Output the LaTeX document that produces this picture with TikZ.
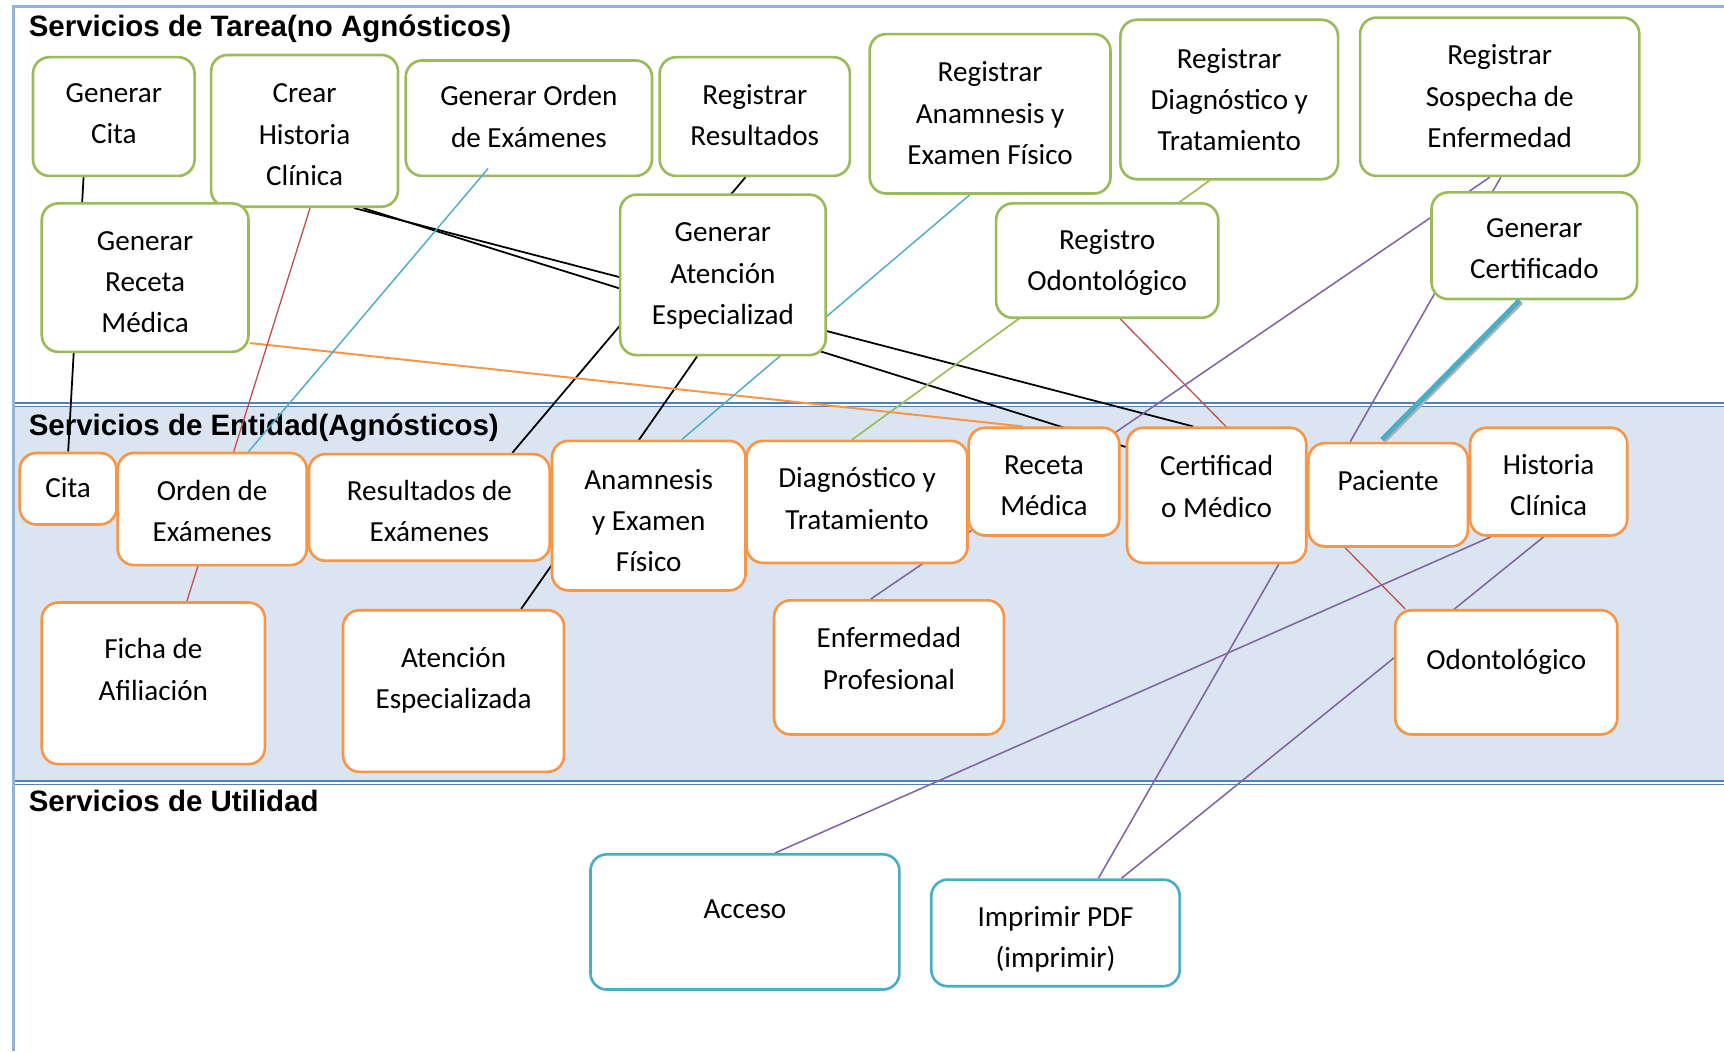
\documentclass[tikz,border=0pt]{standalone}
\usepackage{fontspec}
\setmainfont{Carlito}
\newfontfamily\headfont{Liberation Sans}
\definecolor{gcol}{HTML}{9BBB59}
\definecolor{ecol}{HTML}{F79646}
\definecolor{ucol}{HTML}{4BACC6}
\definecolor{redl}{HTML}{C0504D}
\definecolor{purl}{HTML}{8064A2}
\definecolor{bandfill}{HTML}{DBE5F1}
\definecolor{bandline}{HTML}{4F81BD}
\definecolor{framecol}{HTML}{95B3D7}
\pgfdeclarelayer{back}
\pgfdeclarelayer{lines}
\pgfsetlayers{back,lines,main}
\newcommand\bx[8]{%
  \node[#1, minimum width={#5-#3}, minimum height={#6-#4}] (#2) at ({(#3+#5)/2},{(#4+#6)/2}) {};
  \node[txt] (#2t) at ({(#3+#5)/2},#7) {#8};}
\begin{document}
\begin{tikzpicture}[x=1pt,y=-1pt,
  box/.style={draw, line width=2.4pt, rounded corners=15pt, fill=white, inner sep=0pt},
  gbox/.style={box, draw=gcol},
  ebox/.style={box, draw=ecol},
  ubox/.style={box, draw=ucol},
  txt/.style={align=center, inner sep=0pt, font=\fontsize{26.5}{37.5}\selectfont,
    execute at begin node=\strut, execute at end node=\strut},
  head/.style={anchor=base west, inner sep=0pt, font=\headfont\bfseries\fontsize{26.8}{30}\selectfont},
  cblack/.style={draw=black, line width=1.6pt},
  cred/.style={draw=redl, line width=1.2pt},
  ccyan/.style={draw=ucol, line width=1.3pt},
  cgreen/.style={draw=gcol, line width=1.5pt},
  cpurple/.style={draw=purl, line width=1.4pt},
  corange/.style={draw=ecol, line width=1.8pt}]
\useasboundingbox (0,0) rectangle (1568,956);

\begin{pgfonlayer}{back}
  \fill[bandfill] (12,370.5) rectangle (1568,709.5);
  \draw[bandline, line width=1.3pt] (12,366.5) -- (1568,366.5);
  \draw[bandline, line width=1.3pt] (12,369.8) -- (1568,369.8);
  \draw[bandline, line width=1.3pt] (12,710.3) -- (1568,710.3);
  \draw[bandline, line width=1.3pt] (12,713.6) -- (1568,713.6);
  \draw[framecol, line width=3pt] (12,956) -- (12,6) -- (1568,6);
  \node[head] (h1) at (26,33) {Servicios de Tarea(no Agnósticos)};
  \node[head] (h2) at (26,396) {Servicios de Entidad(Agnósticos)};
  \node[head] (h3) at (26,738) {Servicios de Utilidad};
\end{pgfonlayer}

% Servicios de Tarea
\bx{gbox}{gcita}{30}{52}{177}{160}{109}{Generar\\Cita}
\bx{gbox}{gcrear}{192}{50}{362}{188}{128}{Crear\\Historia\\Clínica}
\bx{gbox}{gorden}{369}{55}{593}{160}{111.5}{Generar Orden\\de Exámenes}
\bx{gbox}{gresul}{600}{52}{773}{160}{110}{Registrar\\Resultados}
\bx{gbox}{ganam}{791}{31}{1010}{176}{108.5}{Registrar\\Anamnesis y\\Examen Físico}
\bx{gbox}{gdiag}{1019}{18}{1217}{163}{96}{Registrar\\Diagnóstico y\\Tratamiento}
\bx{gbox}{gsosp}{1237}{16}{1491}{160}{93}{Registrar\\Sospecha de\\Enfermedad}
\bx{gbox}{greceta}{38}{185}{226}{320}{262}{Generar\\Receta\\Médica}
\bx{gbox}{gatenc}{564}{177}{751}{323}{254.5}{Generar\\Atención\\Especializad}
\bx{gbox}{godont}{906}{185}{1108}{289}{242}{Registro\\Odontológico}
\bx{gbox}{gcert}{1302}{175}{1489}{272}{231.5}{Generar\\Certificado}

% Servicios de Entidad
\bx{ebox}{ecita}{18}{412}{106}{477}{445}{Cita}
\bx{ebox}{eorden}{107}{412}{279}{514}{470}{Orden de\\Exámenes}
\bx{ebox}{eresul}{281}{413}{500}{510}{470}{Resultados de\\Exámenes}
\bx{ebox}{eanam}{502}{401}{678}{537}{479}{Anamnesis\\y Examen\\Físico}
\bx{ebox}{ediag}{679}{401}{880}{512}{459}{Diagnóstico y\\Tratamiento}
\bx{ebox}{ereceta}{881}{389}{1018}{487}{447}{Receta\\Médica}
\bx{ebox}{ecert}{1025}{389}{1188}{512}{448}{Certificad\\o Médico}
\bx{ebox}{epac}{1190}{403}{1335}{497}{439}{Paciente}
\bx{ebox}{ehist}{1337}{389}{1480}{487}{447}{Historia\\Clínica}
\bx{ebox}{eficha}{38}{548}{241}{695}{614.5}{Ficha de\\Afiliación}
\bx{ebox}{eatenc}{312}{555}{513}{702}{622}{Atención\\Especializada}
\bx{ebox}{eenf}{704}{546}{913}{668}{604.5}{Enfermedad\\Profesional}
\bx{ebox}{eodont}{1269}{555}{1471}{668}{601}{Odontológico}

% Servicios de Utilidad
\bx{ubox}{uacceso}{537}{777}{818}{900}{828}{Acceso}
\bx{ubox}{uimpr}{847}{800}{1073}{897}{857.5}{Imprimir PDF\\(imprimir)}

\begin{pgfonlayer}{lines}
  \draw[cblack] ([xshift=-27.5pt]gcita.south) -- (ecita.north);
  \draw[cblack] ([xshift=45pt]gcrear.south) -- ([xshift=-21.5pt]ecert.north);
  \draw[cblack] ([xshift=53pt]gcrear.south) -- ([yshift=44pt]ecert.west);
  \draw[cblack] ([xshift=-8.5pt]gresul.south) -- ([xshift=75.5pt]eresul.north);
  \draw[cblack] ([xshift=-23.5pt]gatenc.south) -- ([xshift=61.5pt]eatenc.north);
  \draw[corange] ([yshift=-59.5pt]greceta.east) -- ([xshift=-19.5pt]ereceta.north);
  \draw[cred] ([xshift=5pt]gcrear.south) -- ([xshift=30.5pt]eficha.north);
  \draw[cred] ([xshift=12pt]godont.south) -- ([xshift=-92pt]eodont.north);
  \draw[ccyan] ([xshift=-18.5pt]ganam.south) -- ([xshift=30pt]eanam.north);
  \draw[cgreen] ([xshift=-18pt]gdiag.south) -- ([xshift=-4.5pt]ediag.north);
  \draw[cpurple] ([xshift=-9pt]gsosp.south) -- ([xshift=-16.5pt]eenf.north);
  \draw[cpurple] ([xshift=1pt]gsosp.south) -- ([xshift=-34.5pt]epac.north);
  \draw[cpurple] ([xshift=-52.5pt]ehist.south) -- ([xshift=27.5pt]uacceso.north);
  \draw[cpurple] ([xshift=-4.5pt]ehist.south) -- ([xshift=60pt]uimpr.north);
  \draw[cpurple] ([xshift=56.5pt]ecert.south) -- ([xshift=39pt]uimpr.north);
\end{pgfonlayer}

% lines drawn on top of the boxes
\draw[ccyan] ([xshift=-37pt,yshift=8pt]gorden.south) -- ([xshift=33pt]eorden.north);
\draw[black!30, line width=4.5pt] ([xshift=-12pt,yshift=-1.5pt]gcert.south) -- ([xshift=-4pt,yshift=0.5pt]epac.north);
\draw[ucol, line width=4.5pt] ([xshift=-13.5pt]gcert.south) -- ([xshift=-5.5pt,yshift=2pt]epac.north);
\end{tikzpicture}
\end{document}
